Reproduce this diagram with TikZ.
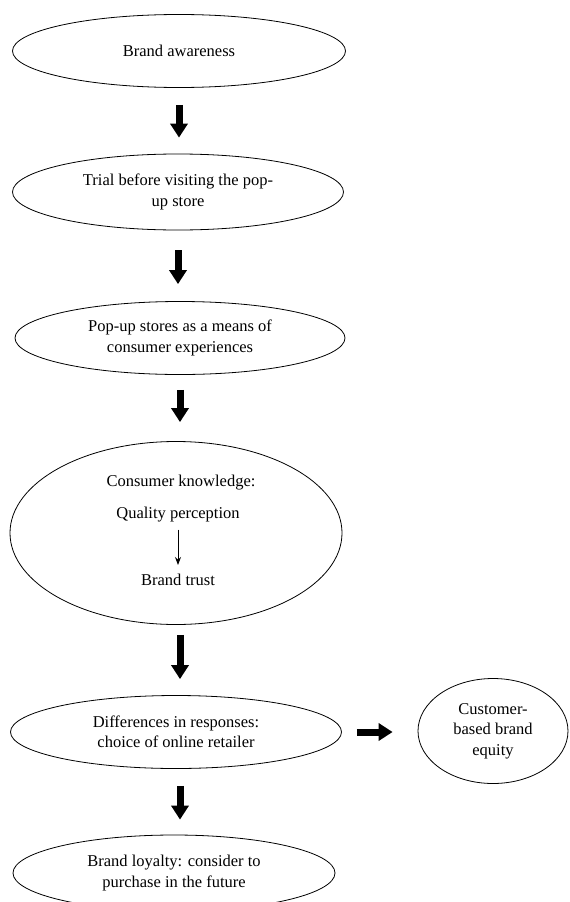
\documentclass[tikz,border=0pt]{standalone}
\usepackage{fontspec}
\setmainfont{Liberation Serif}
\usepackage{tikz}
\usetikzlibrary{shapes.geometric,arrows.meta}

\begin{document}
\begin{tikzpicture}[
                x=1pt, y=-1pt,
                every node/.style={font=\fontsize{16.5}{20.5}\selectfont, align=center},
                stage/.style={ellipse, draw, line width=0.8pt, inner sep=0pt},
                flow/.style={line width=7pt, -{Triangle[width=17pt,length=14pt]}},
                thin flow/.style={line width=1pt, -{Stealth[width=6pt,length=8pt]}}
            ]
                \useasboundingbox (0,0) rectangle (570,902);
                \node[stage, minimum width=333pt, minimum height=73pt] (aware) at (179,51) {Brand awareness};
                \node[stage, minimum width=331pt, minimum height=76pt] (trial) at (178,192) {Trial before visiting the pop-\\up store};
                \node[stage, minimum width=330pt, minimum height=73pt] (popup) at (180,338) {Pop-up stores as a means of\\consumer experiences};
                \node[stage, minimum width=332pt, minimum height=183pt] (know) at (176,533) {};
                \node[inner sep=0pt] (ck) at (181,483) {Consumer knowledge:};
                \node[inner sep=0pt] (qp) at (178,515) {Quality perception};
                \node[inner sep=0pt] (bt) at (178,580) {Brand trust};
                \node[stage, minimum width=331pt, minimum height=73pt] (resp) at (176,732) {Differences in responses:\\choice of online retailer};
                \node[stage, minimum width=150pt, minimum height=105pt] (equity) at (493,731) {Customer-\\based brand\\equity};
                \node[stage, minimum width=322pt, minimum height=76pt] (loyal) at (174,873) {Brand loyalty: consider to\\purchase in the future};
                \draw[flow, shorten <=17pt, shorten >=16pt] (aware.south) -- (aware.south |- trial.north);
                \draw[flow, shorten <=20pt, shorten >=17pt] (trial.south) -- (trial.south |- popup.north);
                \draw[flow, shorten <=15pt, shorten >=19pt] (popup.south) -- (popup.south |- know.north);
                \draw[flow, shorten <=10pt, shorten >=16pt] (know.south) ++(4,0) coordinate (k1) (k1) -- (k1 |- resp.north);
                \draw[flow, shorten <=17pt, shorten >=15pt] (resp.south) ++(4,0) coordinate (r1) (r1) -- (r1 |- loyal.north);
                \draw[flow, shorten <=15pt, shorten >=25pt] (resp.east) -- (resp.east -| equity.west);
                \draw[thin flow, shorten <=7pt, shorten >=9pt] (qp.south) -- (bt.north);
            \end{tikzpicture}
\end{document}
